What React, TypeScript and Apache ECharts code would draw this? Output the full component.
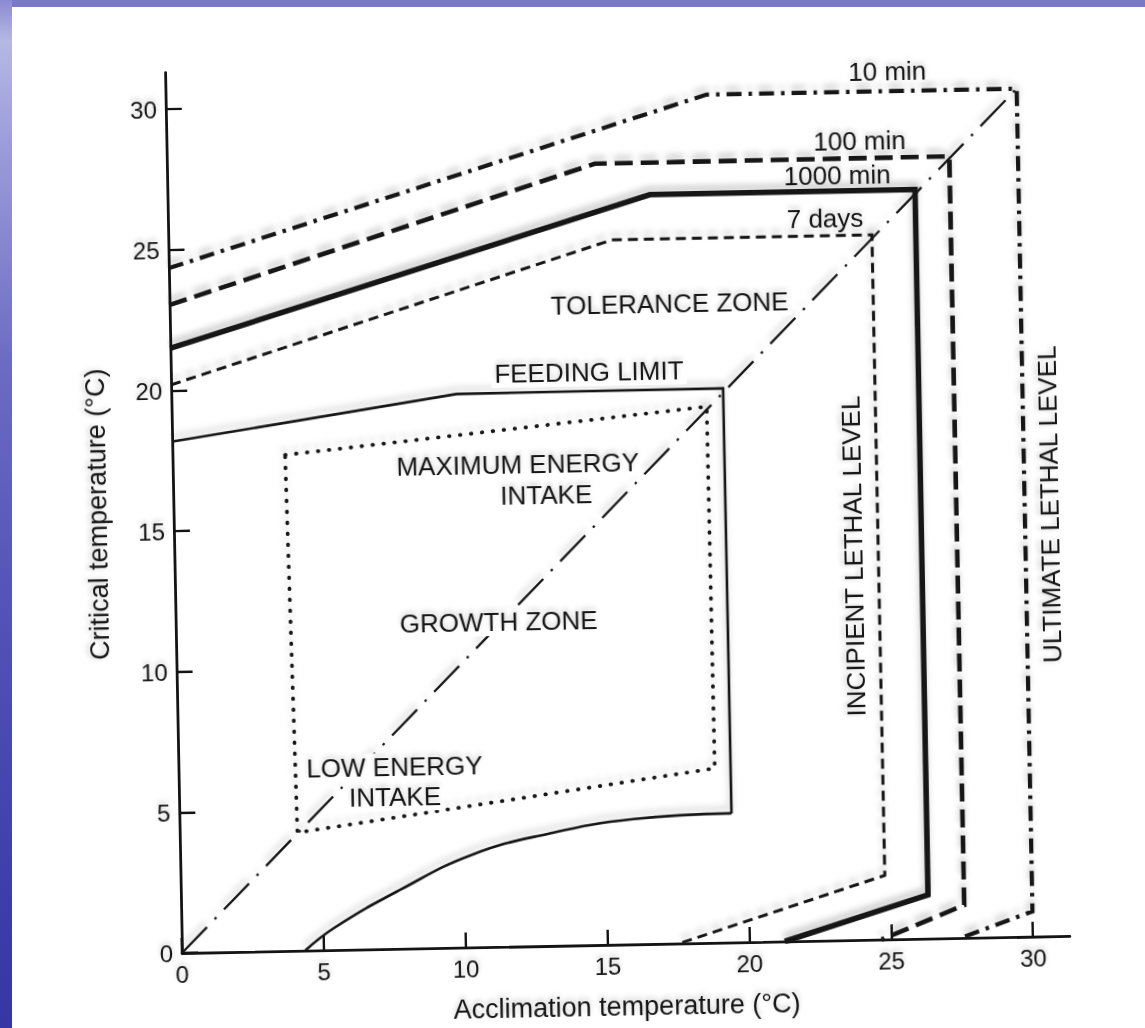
import React, { useEffect, useRef } from "react";
import * as echarts from "echarts";

// ---- data (acclimation temperature °C, critical temperature °C) ----
const xTicks = [0, 5, 10, 15, 20, 25, 30];
const yTicks = [0, 5, 10, 15, 20, 25, 30];

const line10min = [[0, 24.35], [19.07, 30.15], [30.0, 30.15], [30.0, 0.9], [27.45, 0]];
const line100min = [[0, 23.04], [15.08, 27.77], [27.58, 27.79], [27.6, 1.17], [24.66, 0]];
const line1000min = [[0, 21.5], [17.0, 26.63], [26.35, 26.63], [26.33, 1.56], [21.25, 0]];
const line7days = [[0, 20.2], [15.63, 25.05], [24.8, 25.05], [24.82, 2.28], [17.54, 0]];
const feedingLimit = [[0, 18.18], [10.06, 19.68], [19.45, 19.7], [19.46, 4.59]];
const lowerLimit = [[4.34, 0], [5.4, 0.8], [7.72, 2.09], [10.3, 3.3], [13.05, 4.0], [16.0, 4.45], [19.46, 4.59]];
const energyBox = [[3.97, 17.63], [18.86, 19.06], [18.9, 6.2], [4.15, 4.2], [3.97, 17.63]];
const diagonal = [[0, 0], [30.0, 30.15]];

const FONT = "'Liberation Sans', Arial, Helvetica, sans-serif";
const INK = "#141414";
const SHADOW = { shadowColor: "rgba(0,0,0,0.22)", shadowBlur: 6, shadowOffsetX: -1, shadowOffsetY: -5 };

function lineSeries(name: string, data: number[][], width: number, type: any, cap: string = "butt", smooth = false) {
  return {
    name,
    type: "line",
    data,
    showSymbol: false,
    symbol: "none",
    smooth: smooth ? 0.45 : false,
    silent: true,
    z: 3,
    lineStyle: { color: INK, width, type, cap, join: "miter", ...SHADOW },
  };
}

type Label = { text: string; x: number; y: number; rot?: number; bg?: boolean; z?: number };
const labels: Label[] = [
  { text: "10 min", x: 904, y: 85 },
  { text: "100 min", x: 875, y: 154 },
  { text: "1000 min", x: 852, y: 188, z: 1 },
  { text: "7 days", x: 839, y: 231 },
  { text: "TOLERANCE ZONE", x: 682, y: 313, bg: true },
  { text: "FEEDING LIMIT", x: 600, y: 380, bg: true },
  { text: "MAXIMUM ENERGY", x: 527, y: 471, bg: true },
  { text: "INTAKE", x: 555, y: 502, bg: true },
  { text: "GROWTH ZONE", x: 505, y: 628, bg: true },
  { text: "LOW ENERGY", x: 398, y: 771, bg: true },
  { text: "INTAKE", x: 398, y: 801, bg: true },
  { text: "INCIPIENT LETHAL LEVEL", x: 861, y: 569, rot: Math.PI / 2, bg: true },
  { text: "ULTIMATE LETHAL LEVEL", x: 1058, y: 521, rot: Math.PI / 2, bg: true },
];

export default function App() {
  const ref = useRef<HTMLDivElement>(null);
  useEffect(() => {
    if (!ref.current) return;
    const chart = echarts.init(ref.current, undefined, { renderer: "svg", width: 1145, height: 1100 });
    const axisText = { fontFamily: FONT, color: INK, textShadowColor: "rgba(0,0,0,0.2)", textShadowBlur: 5, textShadowOffsetY: -3 };
    chart.setOption({
      animation: false,
      backgroundColor: "transparent",
      grid: { left: 182, right: 75, top: 72.5, bottom: 147, containLabel: false },
      xAxis: {
        type: "value",
        min: 0,
        max: 31.3,
        interval: 5,
        name: "Acclimation temperature (°C)",
        nameLocation: "middle",
        nameGap: 48,
        nameTextStyle: { ...axisText, fontSize: 27 },
        axisLine: { show: true, onZero: false, lineStyle: { color: INK, width: 2.8 } },
        axisTick: { show: true, inside: true, length: 15, customValues: xTicks, lineStyle: { color: INK, width: 2.4 } },
        axisLabel: { show: true, margin: 9, customValues: xTicks, ...axisText, fontSize: 24 },
        splitLine: { show: false },
      },
      yAxis: {
        type: "value",
        min: 0,
        max: 31.3,
        interval: 5,
        name: "Critical temperature (°C)",
        nameLocation: "middle",
        nameRotate: 90,
        nameGap: 63,
        nameTextStyle: { ...axisText, fontSize: 27 },
        axisLine: { show: true, onZero: false, lineStyle: { color: INK, width: 2.8 } },
        axisTick: { show: true, inside: true, length: 16, customValues: yTicks, lineStyle: { color: INK, width: 2.4 } },
        axisLabel: { show: true, margin: 9, customValues: yTicks, ...axisText, fontSize: 24 },
        splitLine: { show: false },
      },
      series: [
        lineSeries("diagonal", diagonal, 2.3, [36, 11, 2.5, 11]),
        lineSeries("10 min", line10min, 4.2, [15, 7, 3.5, 7]),
        lineSeries("100 min", line100min, 4.6, [18, 8]),
        lineSeries("1000 min", line1000min, 5.5, "solid"),
        lineSeries("7 days", line7days, 3, [10, 6]),
        lineSeries("feeding limit", feedingLimit, 2.6, "solid"),
        lineSeries("lower limit", lowerLimit, 2.6, "solid", "butt", true),
        lineSeries("energy intake", energyBox, 3.8, [0.5, 10.5], "round"),
      ],
      graphic: labels.map((l) => ({
        type: "text",
        x: l.x,
        y: l.y,
        rotation: l.rot || 0,
        z: l.z ?? 10,
        silent: true,
        style: {
          text: l.text,
          fill: INK,
          font: `26px ${FONT}`,
          align: "center",
          verticalAlign: "middle",
          backgroundColor: l.bg ? "#ffffff" : undefined,
          padding: l.bg ? [1, 3] : undefined,
          textShadowColor: "rgba(0,0,0,0.2)",
          textShadowBlur: 5,
          textShadowOffsetY: -3,
        },
      })),
    });
    return () => chart.dispose();
  }, []);

  return (
    <div style={{ position: "fixed", inset: 0, overflow: "hidden", background: "#7a78c8" }}>
      <div
        style={{
          position: "absolute",
          left: 0,
          top: 0,
          width: 12,
          bottom: 0,
          background:
            "linear-gradient(to bottom, #8a8ad2 0%, #b7b7e4 4%, #9c9cda 14%, #6c6cc4 35%, #5252b8 60%, #4343ae 80%, #3636a4 100%)",
        }}
      />
      <div style={{ position: "absolute", left: 12, top: 7, right: 0, bottom: 0, background: "#ffffff" }} />
      <div
        ref={ref}
        style={{
          position: "absolute",
          left: 0,
          top: 0,
          width: 1145,
          height: 1100,
          transform: "rotate(-1.1deg)",
          transformOrigin: "182px 953px",
        }}
      />
    </div>
  );
}
